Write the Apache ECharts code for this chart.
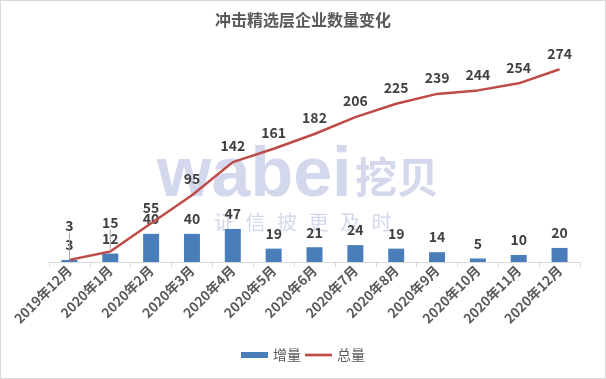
<!DOCTYPE html>
<html><head><meta charset="utf-8">
<script src="https://cdn.jsdelivr.net/npm/echarts@6/dist/echarts.min.js"></script>
<style>html,body{margin:0;padding:0;background:#fff;}#c{width:606px;height:379px;box-sizing:border-box;border:1px solid #d9d9d9;}</style>
</head><body><div id="c"></div>
<script>
var categories = ['2019年12月','2020年1月','2020年2月','2020年3月','2020年4月','2020年5月','2020年6月','2020年7月','2020年8月','2020年9月','2020年10月','2020年11月','2020年12月'];
var increase = [3, 12, 40, 40, 47, 19, 21, 24, 19, 14, 5, 10, 20];
var total = [3, 15, 55, 95, 142, 161, 182, 206, 225, 239, 244, 254, 274];
var titleText = '冲击精选层企业数量变化';
var seriesNames = ['增量', '总量'];
var slogan = ['证','信','披','更','及','时'];

var font = '"Noto Sans CJK SC", "Noto Sans", sans-serif';
var wm = '#d3d8ec';
var chart = echarts.init(document.getElementById('c'));
var lineData = total.map(function(v, i){
  if (i < 2) return {value: v, labelLine: {show: true, lineStyle: {color: '#a6a6a6', width: 1}}};
  return v;
});
var graphics = [
  {type: 'text', z: -10, style: {x: 156, y: 176, text: 'wabei', verticalAlign: 'middle', font: 'bold 70px "Liberation Sans", Arial, sans-serif', fill: wm}},
  {type: 'text', z: -10, style: {x: 354, y: 176, text: '挖贝', verticalAlign: 'middle', font: 'bold 42px "Noto Sans CJK SC", sans-serif', fill: wm}}
];
slogan.forEach(function(ch, i){
  graphics.push({type: 'text', z: -10, style: {x: 223 + i * 31.5, y: 221, text: ch, align: 'center', verticalAlign: 'middle', font: '20px "Noto Sans CJK SC", sans-serif', fill: wm}});
});
chart.setOption({
  animation: false,
  title: {text: titleText, left: 'center', top: 6, textStyle: {fontFamily: font, fontSize: 16, fontWeight: 'bold', color: '#595959'}},
  graphic: graphics,
  legend: {bottom: 11, left: 'center', itemGap: 4, itemWidth: 27, itemHeight: 6,
    textStyle: {fontFamily: font, fontSize: 14, color: '#595959'},
    data: [{name: seriesNames[0], icon: 'rect'}, {name: seriesNames[1], icon: 'path://M0,0H30V3H0Z'}]},
  grid: {left: 48, right: 25, top: 50, bottom: 116},
  xAxis: {type: 'category', data: categories,
    axisLine: {lineStyle: {color: '#d9d9d9'}},
    axisTick: {show: true, length: 5, lineStyle: {color: '#d9d9d9'}},
    axisLabel: {rotate: 45, interval: 0, margin: 6, fontFamily: font, fontSize: 13.5, fontWeight: 'bold', color: '#595959'}},
  yAxis: {type: 'value', min: 0, max: 300, show: false, splitLine: {show: false}},
  series: [
    {name: seriesNames[0], type: 'bar', data: increase, barWidth: 16,
      itemStyle: {color: '#4a7ebb'},
      label: {show: true, position: 'top', distance: 8, fontFamily: font, fontSize: 14, fontWeight: 'bold', color: '#404040'}},
    {name: seriesNames[1], type: 'line', data: lineData, symbol: 'circle', symbolSize: 0.1, showSymbol: true,
      lineStyle: {color: '#be4b48', width: 2.5}, itemStyle: {color: '#be4b48'},
      label: {show: true, position: 'top', distance: 9, fontFamily: font, fontSize: 14, fontWeight: 'bold', color: '#404040'},
      labelLayout: function(p){ if (p.dataIndex === 0) return {dy: -18}; if (p.dataIndex === 1) return {dy: -13}; return {}; }}
  ]
});
</script></body></html>
